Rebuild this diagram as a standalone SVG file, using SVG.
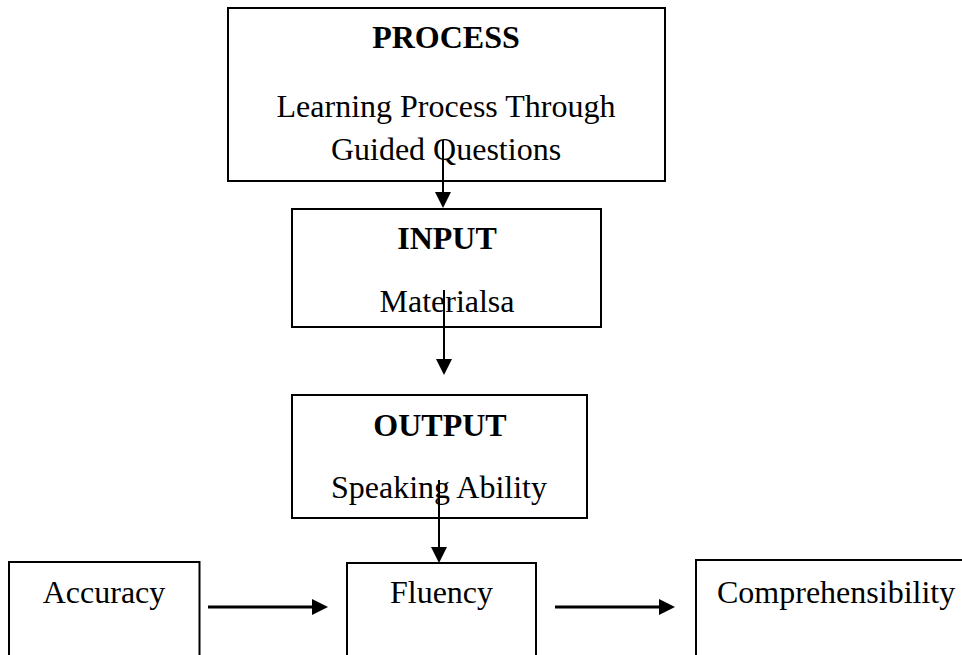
<svg xmlns="http://www.w3.org/2000/svg" width="962" height="655" viewBox="0 0 962 655">
  <style>
    .box { fill: #ffffff; stroke: #000000; stroke-width: 2; }
    .title { font-family: "Liberation Serif", "Times New Roman", serif; font-size: 32px; font-weight: bold; fill: #000000; text-anchor: middle; }
    .label { font-family: "Liberation Serif", "Times New Roman", serif; font-size: 32px; fill: #000000; text-anchor: middle; }
    .edge { stroke: #000000; stroke-width: 2; fill: none; marker-end: url(#arrow); }
    .edge-h { stroke-width: 3; }
  </style>
  <defs>
    <marker id="arrow" viewBox="0 0 16 16" refX="8" refY="8" markerWidth="16" markerHeight="16" markerUnits="userSpaceOnUse" orient="auto">
      <path d="M0,0 L16,8 L0,16 z" fill="#000000"/>
    </marker>
  </defs>
  <rect width="962" height="655" fill="#ffffff"/>

  <g id="process">
    <rect class="box" x="228" y="8" width="437" height="173"/>
    <text class="title" x="446" y="48">PROCESS</text>
    <text class="label" x="446" y="117">Learning Process Through</text>
    <text class="label" x="446" y="160">Guided Questions</text>
  </g>

  <g id="input">
    <rect class="box" x="292" y="209" width="309" height="118"/>
    <text class="title" x="447" y="249">INPUT</text>
    <text class="label" x="447" y="312">Materialsa</text>
  </g>

  <g id="output">
    <rect class="box" x="292" y="395" width="295" height="123"/>
    <text class="title" x="440" y="436">OUTPUT</text>
    <text class="label" x="439" y="498">Speaking Ability</text>
  </g>

  <g id="accuracy">
    <rect class="box" x="9" y="562" width="190.5" height="110"/>
    <text class="label" x="104" y="603">Accuracy</text>
  </g>

  <g id="fluency">
    <rect class="box" x="347" y="563" width="189" height="110"/>
    <text class="label" x="441.5" y="603">Fluency</text>
  </g>

  <g id="comprehensibility">
    <rect class="box" x="696" y="560" width="280" height="110"/>
    <text class="label" x="717" y="603" style="text-anchor:start">Comprehensibility</text>
  </g>

  <g id="connectors">
    <line class="edge" x1="443" y1="140" x2="443" y2="200"/>
    <line class="edge" x1="444" y1="290" x2="444" y2="367"/>
    <line class="edge" x1="439" y1="480" x2="439" y2="555"/>
    <line class="edge edge-h" x1="208" y1="607" x2="320" y2="607"/>
    <line class="edge edge-h" x1="555" y1="607" x2="667" y2="607"/>
  </g>
</svg>
